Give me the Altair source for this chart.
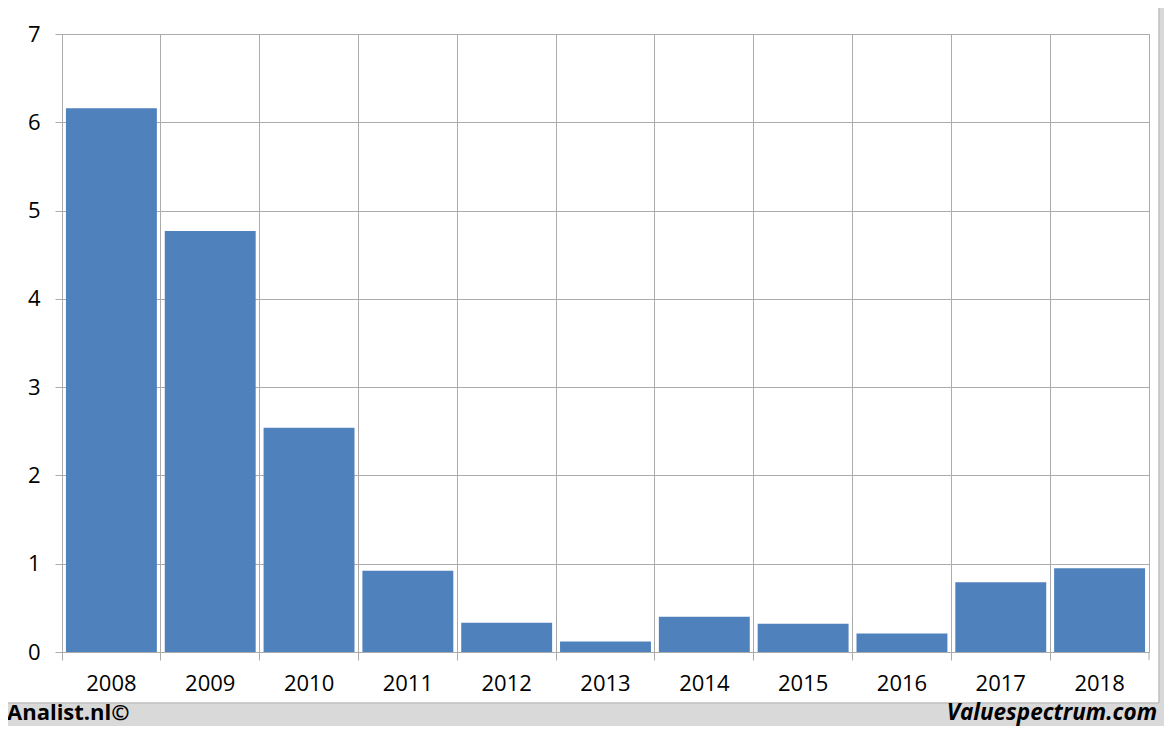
import altair as alt
import pandas as pd

years = ["2008", "2009", "2010", "2011", "2012", "2013", "2014", "2015", "2016", "2017", "2018"]
values = [6.16, 4.77, 2.54, 0.92, 0.33, 0.12, 0.40, 0.32, 0.21, 0.79, 0.95]
y_ticks = [0, 1, 2, 3, 4, 5, 6, 7]
left_note = "Analist.nl©"
right_note = "Valuespectrum.com"

df = pd.DataFrame({"year": years, "value": values})

W, H = 1087, 618
PAD_L, PAD_T, PAD_R, PAD_B = 54, 26, 15, 74
GRID = "#ababab"
FRAME = "#d9d9d9"
one = alt.Data(values=[{}])

base = alt.Chart(df)

bars = base.mark_bar(color="#4f81bd", width=alt.RelativeBandSize(0.92)).encode(
    x=alt.X(
        "year:O",
        sort=years,
        scale=alt.Scale(paddingInner=0, paddingOuter=0),
        axis=alt.Axis(
            title=None,
            labelAngle=0,
            bandPosition=0,
            labelOverlap=False,
            labelPadding=13,
            tickSize=8,
            grid=True,
        ),
    ),
    y=alt.Y(
        "value:Q",
        scale=alt.Scale(domain=[0, 7], nice=False, zero=True),
        axis=alt.Axis(
            title=None,
            values=y_ticks,
            grid=True,
            tickSize=7,
            labelPadding=15,
            labelBaseline="middle",
        ),
    ),
)

# last x tick at the right edge of the plot
end_tick = alt.Chart(one).mark_rule(color=GRID, strokeWidth=1).encode(
    x=alt.value(W), y=alt.value(H), y2=alt.value(H + 8)
)

# grey frame: right strip and bottom strip
right_strip = alt.Chart(one).mark_rect(color=FRAME).encode(
    x=alt.value(W + 10), x2=alt.value(W + PAD_R + 2),
    y=alt.value(-PAD_T - 2), y2=alt.value(H + PAD_B + 2),
)
bottom_strip = alt.Chart(one).mark_rect(color=FRAME).encode(
    x=alt.value(-PAD_L - 2), x2=alt.value(W + PAD_R + 2),
    y=alt.value(H + 51), y2=alt.value(H + PAD_B + 2),
)
edge_v = alt.Chart(one).mark_rule(color="#bfbfbf", strokeWidth=1.5).encode(
    x=alt.value(W + 10), y=alt.value(-PAD_T - 2), y2=alt.value(H + 51)
)
edge_h = alt.Chart(one).mark_rule(color="#bfbfbf", strokeWidth=1.5).encode(
    x=alt.value(-PAD_L - 2), x2=alt.value(W + 10), y=alt.value(H + 51)
)

left_txt = alt.Chart(one).mark_text(
    text=left_note, font="Open Sans", fontSize=22, fontWeight="bold",
    align="left", baseline="alphabetic", color="black",
).encode(x=alt.value(-PAD_L - 1), y=alt.value(H + 68))

right_txt = alt.Chart(one).mark_text(
    text=right_note, font="Open Sans", fontSize=22.5, fontWeight="bold",
    fontStyle="italic", align="right", baseline="alphabetic", color="black",
).encode(x=alt.value(W + 8), y=alt.value(H + 68))

chart = (
    alt.layer(bars, end_tick, right_strip, bottom_strip, edge_v, edge_h, left_txt, right_txt)
    .properties(
        width=W,
        height=H,
        autosize=alt.AutoSizeParams(type="none"),
        padding={"left": PAD_L, "top": PAD_T, "right": PAD_R, "bottom": PAD_B},
        background="white",
    )
    .configure_view(stroke=GRID, strokeWidth=1)
    .configure_axis(
        labelFont="Open Sans",
        labelFontSize=22,
        labelColor="black",
        gridColor=GRID,
        gridOpacity=1,
        gridWidth=1,
        domainColor=GRID,
        domainWidth=1,
        tickColor=GRID,
        tickWidth=1,
    )
)

chart.save("out.html", embed_options={"renderer": "svg", "actions": False})
